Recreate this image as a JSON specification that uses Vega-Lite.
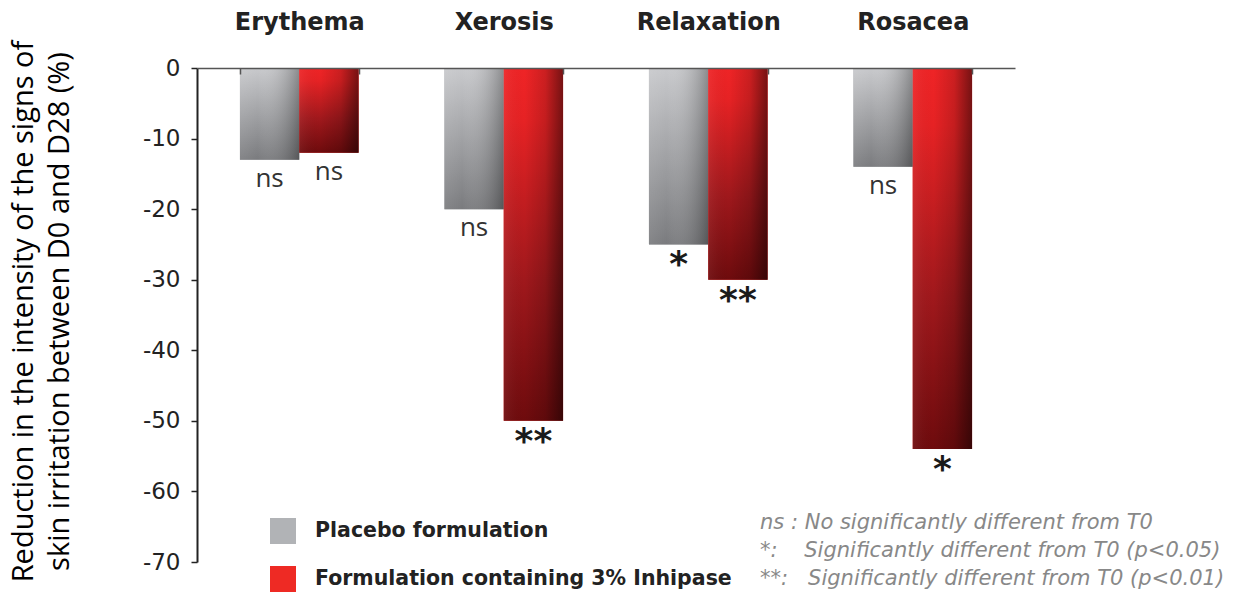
{
  "$schema": "https://vega.github.io/schema/vega-lite/v6.json",
  "width": 818,
  "height": 494,
  "autosize": {"type": "none"},
  "padding": {"left": 197, "top": 68, "right": 220, "bottom": 34},
  "background": "white",
  "config": {"view": {"stroke": null}},
  "datasets": {
    "bars": [
      {"category": "Erythema", "series": "Placebo formulation", "value": -13, "sig": "ns"},
      {"category": "Erythema", "series": "Formulation containing 3% Inhipase", "value": -12, "sig": "ns"},
      {"category": "Xerosis", "series": "Placebo formulation", "value": -20, "sig": "ns"},
      {"category": "Xerosis", "series": "Formulation containing 3% Inhipase", "value": -50, "sig": "**"},
      {"category": "Relaxation", "series": "Placebo formulation", "value": -25, "sig": "*"},
      {"category": "Relaxation", "series": "Formulation containing 3% Inhipase", "value": -30, "sig": "**"},
      {"category": "Rosacea", "series": "Placebo formulation", "value": -14, "sig": "ns"},
      {"category": "Rosacea", "series": "Formulation containing 3% Inhipase", "value": -54, "sig": "*"}
    ],
    "notes": [
      {"note": "ns : No significantly different from T0"},
      {"note": "*:\u00a0\u00a0\u00a0\u00a0Significantly different from T0 (p<0.05)"},
      {"note": "**:\u00a0\u00a0\u00a0Significantly different from T0 (p<0.01)"}
    ]
  },
  "layer": [
    {
      "data": {"name": "bars"},
      "mark": {"type": "bar"},
      "encoding": {
        "x": {"field": "category", "type": "nominal",
          "scale": {"domain": ["Erythema", "Xerosis", "Relaxation", "Rosacea"], "paddingInner": 0.42, "paddingOuter": 0.21},
          "axis": {"orient": "top", "title": null, "zindex": 1, "domainColor": "#555555", "domainWidth": 1.5,
            "tickColor": "#555555", "tickSize": -6, "tickWidth": 1.5, "tickBand": "extent",
            "labelFont": "DejaVu Sans", "labelFontWeight": "bold", "labelFontSize": 24, "labelColor": "#222222",
            "labelPadding": 40, "labelAngle": 0}},
        "xOffset": {"field": "series", "type": "nominal",
          "scale": {"domain": ["Placebo formulation", "Formulation containing 3% Inhipase"], "paddingInner": 0}},
        "y": {"field": "value", "type": "quantitative",
          "scale": {"domain": [-70, 0], "nice": false},
          "axis": {"values": [0, -10, -20, -30, -40, -50, -60, -70], "grid": false,
            "labelExpr": "replace(datum.label, '\u2212', '-')",
            "domainColor": "#222222", "domainWidth": 2, "tickColor": "#222222", "tickSize": 6, "tickWidth": 1.5,
            "labelFont": "DejaVu Sans", "labelFontSize": 23, "labelColor": "#222222", "labelPadding": 11,
            "title": ["Reduction in the intensity of the signs of", "skin irritation between D0 and D28 (%)"],
            "titleFont": "Open Sans", "titleFontSize": 29, "titleFontWeight": "normal", "titleColor": "#000000",
            "titleLineHeight": 36, "titleAngle": -90, "titleX": -174, "titleY": 243, "titleAlign": "center", "titleBaseline": "middle"}},
        "color": {"field": "series", "type": "nominal",
          "scale": {"domain": ["Placebo formulation", "Formulation containing 3% Inhipase"], "range": ["#b1b3b6", "#ee2a24"]},
          "legend": {"orient": "none", "legendX": 73, "legendY": 450, "title": null, "symbolType": "square",
            "symbolSize": 676, "symbolStrokeWidth": 0, "symbolOpacity": 1, "labelFont": "DejaVu Sans", "labelFontWeight": "bold",
            "labelFontSize": 20.5, "labelColor": "#222222", "labelOffset": 19, "rowPadding": 22, "labelLimit": 600}}
      }
    },
    {
      "data": {"name": "bars"},
      "transform": [{"filter": "datum.series === 'Placebo formulation'"}],
      "mark": {"type": "bar", "color": {"gradient": "linear", "x1": 0, "y1": 0, "x2": 0, "y2": 1,
        "stops": [{"offset": 0, "color": "#c8c9cc"}, {"offset": 1, "color": "#7a7b7e"}]}},
      "encoding": {
        "x": {"field": "category", "type": "nominal"},
        "xOffset": {"field": "series", "type": "nominal"},
        "y": {"field": "value", "type": "quantitative"}
      }
    },
    {
      "data": {"name": "bars"},
      "transform": [{"filter": "datum.series === 'Placebo formulation'"}],
      "mark": {"type": "bar", "color": {"gradient": "linear", "x1": 0, "y1": 0, "x2": 1, "y2": 0,
        "stops": [{"offset": 0, "color": "rgba(255,255,255,0.08)"}, {"offset": 0.3, "color": "rgba(255,255,255,0)"}, {"offset": 1, "color": "rgba(0,0,0,0.3)"}]}},
      "encoding": {
        "x": {"field": "category", "type": "nominal"},
        "xOffset": {"field": "series", "type": "nominal"},
        "y": {"field": "value", "type": "quantitative"}
      }
    },
    {
      "data": {"name": "bars"},
      "transform": [{"filter": "datum.series !== 'Placebo formulation'"}],
      "mark": {"type": "bar", "color": {"gradient": "linear", "x1": 0, "y1": 0, "x2": 0, "y2": 1,
        "stops": [{"offset": 0, "color": "#ef2426"}, {"offset": 0.15, "color": "#e62224"}, {"offset": 0.6, "color": "#a0181c"}, {"offset": 1, "color": "#6e0b0d"}]}},
      "encoding": {
        "x": {"field": "category", "type": "nominal"},
        "xOffset": {"field": "series", "type": "nominal"},
        "y": {"field": "value", "type": "quantitative"}
      }
    },
    {
      "data": {"name": "bars"},
      "transform": [{"filter": "datum.series !== 'Placebo formulation'"}],
      "mark": {"type": "bar", "color": {"gradient": "linear", "x1": 0, "y1": 0, "x2": 1, "y2": 0,
        "stops": [{"offset": 0, "color": "rgba(255,255,255,0.06)"}, {"offset": 0.35, "color": "rgba(0,0,0,0)"}, {"offset": 0.7, "color": "rgba(0,0,0,0.15)"}, {"offset": 1, "color": "rgba(0,0,0,0.5)"}]}},
      "encoding": {
        "x": {"field": "category", "type": "nominal"},
        "xOffset": {"field": "series", "type": "nominal"},
        "y": {"field": "value", "type": "quantitative"}
      }
    },
    {
      "data": {"name": "bars"},
      "transform": [{"filter": "datum.sig === 'ns'"}],
      "mark": {"type": "text", "baseline": "top", "align": "center", "dy": 6, "font": "Open Sans", "fontSize": 26, "fontWeight": 500, "color": "#333333"},
      "encoding": {
        "x": {"field": "category", "type": "nominal"},
        "xOffset": {"field": "series", "type": "nominal"},
        "y": {"field": "value", "type": "quantitative"},
        "text": {"field": "sig"}
      }
    },
    {
      "data": {"name": "bars"},
      "transform": [{"filter": "datum.sig !== 'ns'"}],
      "mark": {"type": "text", "baseline": "top", "align": "center", "dy": 4, "font": "DejaVu Sans", "fontSize": 36, "fontWeight": "bold", "color": "#1a1a1a"},
      "encoding": {
        "x": {"field": "category", "type": "nominal"},
        "xOffset": {"field": "series", "type": "nominal"},
        "y": {"field": "value", "type": "quantitative"},
        "text": {"field": "sig"}
      }
    },
    {
      "data": {"name": "notes"},
      "mark": {"type": "point", "opacity": 0},
      "encoding": {
        "shape": {"field": "note", "type": "nominal",
          "scale": {"domain": ["ns : No significantly different from T0", "*:\u00a0\u00a0\u00a0\u00a0Significantly different from T0 (p<0.05)", "**:\u00a0\u00a0\u00a0Significantly different from T0 (p<0.01)"]},
          "legend": {"orient": "none", "legendX": 542, "legendY": 444, "title": null, "symbolSize": 0, "symbolOpacity": 0,
            "symbolStrokeWidth": 0, "labelOffset": 0, "labelFont": "DejaVu Sans", "labelFontStyle": "italic",
            "labelFontSize": 21, "labelColor": "#888888", "rowPadding": 6, "labelLimit": 800}}
      }
    }
  ]
}
